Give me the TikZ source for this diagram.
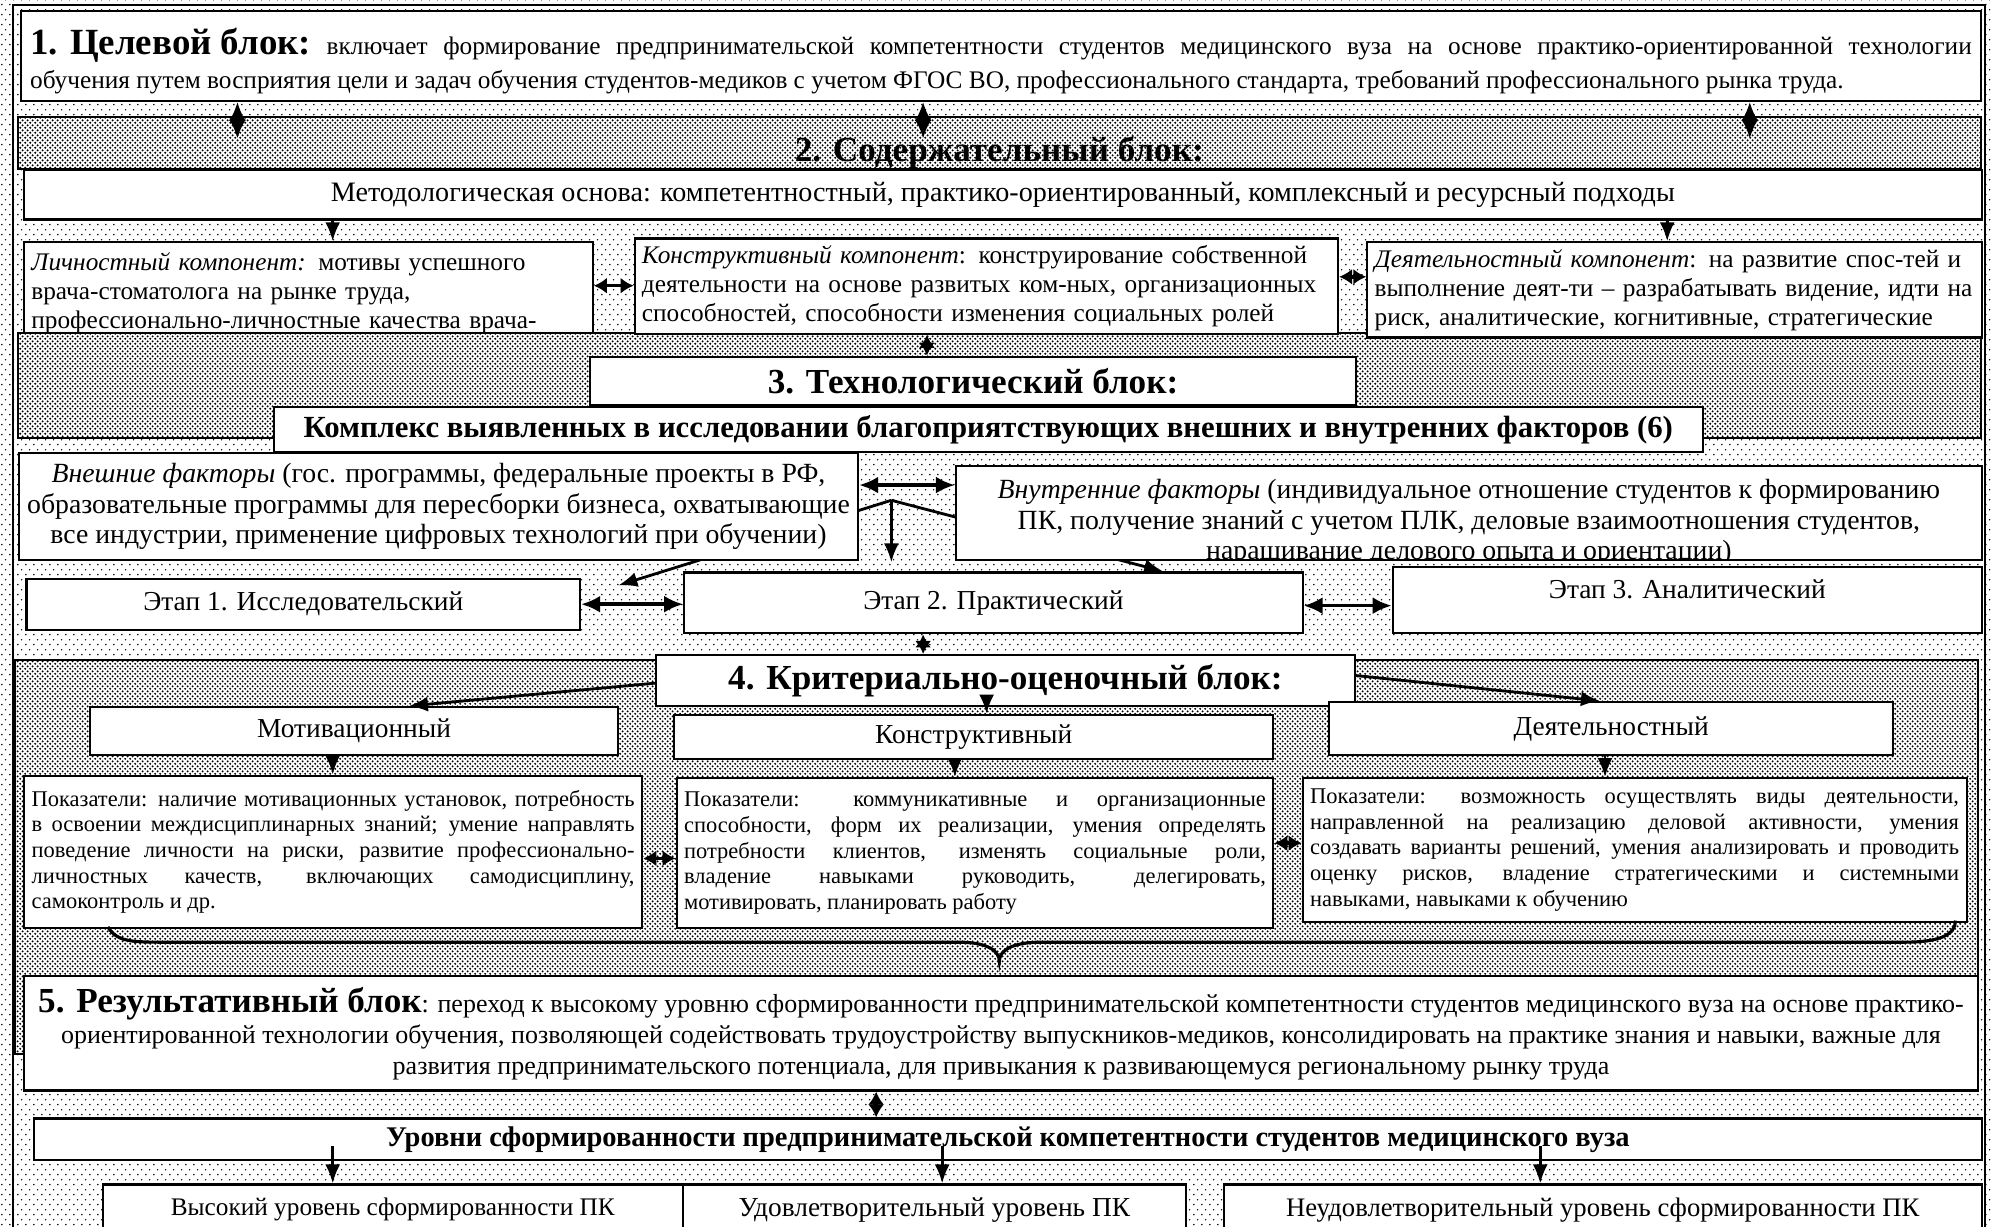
\documentclass[tikz,border=0pt]{standalone}
\usepackage{fontspec}
\setmainfont{Liberation Serif}
\usetikzlibrary{arrows.meta,patterns.meta,calc}

\tikzdeclarepattern{name=lightdots,type=uncolored,bounding box={(0,0) and (2.2pt,2.8pt)},tile size={(2.2pt,2.8pt)},
  code={\fill (0.55pt,0.7pt) circle (0.24pt); \fill (1.65pt,2.1pt) circle (0.24pt);}}
\tikzdeclarepattern{name=densedots,type=uncolored,bounding box={(0,0) and (1.4pt,1.4pt)},tile size={(1.4pt,1.4pt)},
  code={\fill (0.35pt,0.35pt) circle (0.31pt); \fill (1.05pt,1.05pt) circle (0.31pt);}}

\newcommand\ttlbig{\fontsize{10.5}{12}\selectfont\bfseries}
\newcommand\ttl{\fontsize{10}{12}\selectfont\bfseries}
\newcommand\txtb{\fontsize{7.2}{9.7}\selectfont}
\newcommand\txtm{\fontsize{8.0}{9}\selectfont}
\newcommand\txtc{\fontsize{7.2}{8.2}\selectfont}
\newcommand\txtf{\fontsize{7.9}{8.8}\selectfont}
\newcommand\txte{\fontsize{7.8}{9}\selectfont}
\newcommand\txtp{\fontsize{6.4}{7.3}\selectfont}
\newcommand\txtr{\fontsize{7.4}{8.8}\selectfont}
\newcommand\txtk{\fontsize{8.75}{10}\selectfont\bfseries}

% box from corner to corner, coordinates in picture units
\def\rbox[#1](#2,#3)(#4,#5)#6#7{\node[box,anchor=north west,minimum width={(#4-#2)*1.27mm},minimum height={(#5-#3)*1.27mm},#1] (#6) at (#2,#3) {#7};}

\begin{document}
\begin{tikzpicture}[x=1.27mm,y=-1.27mm,
  box/.style={draw,line width=0.6pt,fill=white,inner sep=0.7mm},
  dense/.style={draw,line width=0.5pt,preaction={fill=white},pattern=densedots},
  dbl/.style={{Latex[length=1.9mm,width=1.7mm]}-{Latex[length=1.9mm,width=1.7mm]},line width=1pt},
  dbls/.style={{Latex[length=1.3mm,width=1.6mm]}-{Latex[length=1.3mm,width=1.6mm]},line width=1pt},
  arr/.style={-{Latex[length=1.9mm,width=1.5mm]},line width=0.8pt}]
			%%%%% START %%%%%
			\useasboundingbox (0,0) rectangle (156.8,96.6);
			\fill[white] (0,0) rectangle (156.8,96.6);
			\fill[pattern=lightdots] (0,0) rectangle (156.8,96.6);
			\draw[line width=0.5pt] (1.0,0.4) rectangle (156.3,98);
			
			% 1
			\rbox[text width=194.2mm,align=justify,font=\txtb](1.6,0.8)(155.9,7.8){blka}{\hbox{\rule{0pt}{3.6mm}\ttlbig 1. Целевой блок:} включает формирование предпринимательской компетентности студентов медицинского вуза на основе практико-ориентированной технологии\linebreak обучения путем восприятия цели и задач обучения студентов-медиков с учетом ФГОС ВО, профессионального стандарта, требований профессионального рынка труда.}
			
			% 2
			\draw[dense] (1.4,9.2) rectangle (156.0,13.3);
			\node[font=\ttl] (ttlb) at (78.7,12.0) {2. Содержательный блок:};
			\rbox[font=\txtm](1.8,13.3)(156.0,17.2){meth}{Методологическая основа: компетентностный, практико-ориентированный, комплексный и ресурсный подходы};
			\rbox[text width=55.4mm,align=left,font=\txtc](1.8,19.0)(46.6,27.0){lich}{\textit{Личностный компонент:} мотивы успешного\\ врача-стоматолога на рынке труда,\\ профессионально-личностные качества врача-}
			
			% 3
			\draw[dense] (1.4,26.2) rectangle (156.0,34.5);
			\rbox[text width=68.9mm,align=left,font=\txtc](49.9,18.7)(105.3,26.2){konstr}{\textit{Конструктивный компонент}: конструирование собственной\\ деятельности на основе развитых ком-ных, организационных\\ способностей, способности изменения социальных ролей}
			\rbox[text width=60.0mm,align=left,font=\txtc](107.6,19.0)(156.0,26.5){deyat}{\textit{Деятельностный компонент}: на развитие спос-тей и\\ выполнение деят-ти – разрабатывать видение, идти на\\ риск, аналитические, когнитивные, стратегические}
			\rbox[font=\ttl](46.4,28.0)(106.7,31.8){tech}{3. Технологический блок:}
			\rbox[font=\txtk](21.5,32.0)(134.0,35.5){kompl}{Комплекс выявленных в исследовании благоприятствующих внешних и внутренних факторов (6)}
			
			\coordinate (fj) at (70.2,39.4);
			\coordinate (e12) at (48.7,46.1);
			\coordinate (e2) at (91.6,45.0);
			\draw[arr] (fj) -- (e12);
			\draw[arr] (fj) -- (e2);
			\rbox[align=center,font=\txtf](1.4,35.6)(67.5,44.0){vnesh}{\textit{Внешние факторы} (гос. программы, федеральные проекты в РФ,\\ образовательные программы для пересборки бизнеса, охватывающие\\ все индустрии, применение цифровых технологий при обучении)}
			\rbox[path picture={\node[anchor=north,align=center,font=\txtf,inner sep=0pt] (vnutrtxt) at ([yshift=-0.85mm]path picture bounding box.north) {\textit{Внутренние факторы} (индивидуальное отношение студентов к формированию\\ ПК, получение знаний с учетом ПЛК, деловые взаимоотношения студентов,\\ наращивание делового опыта и ориентации)};}](75.2,36.6)(156.0,44.0){vnutr}{}
			
			\rbox[font=\txte](2.0,45.5)(45.6,49.5){etap1}{Этап 1. Исследовательский}
			\rbox[font=\txte](53.8,45.0)(102.5,49.8){etap2}{Этап 2. Практический}
			\rbox[font=\txte](109.6,44.6)(156.0,49.8){etap3}{\raisebox{2.3mm}{Этап 3. Аналитический}}
			\draw[arr,shorten >=0.9mm] (fj) -- (fj |- etap2.north);
			\draw[dbl] (0,38.2 -| vnesh.east) -- (0,38.2 -| vnutr.west);
			\draw[dbl] (etap1) -- (etap1 -| etap2.west);
			\draw[dbl] (0,47.7 -| etap2.east) -- (0,47.7 -| etap3.west);
			
			% 4
			\draw[dense] (1.2,52.0) rectangle (155.8,83.0);
			\rbox[font=\ttl](51.6,51.5)(106.6,55.5){krit}{4. Критериально-оценочный блок:}
			\rbox[font=\txte](7.0,55.6)(48.6,59.4){motiv}{Мотивационный}
			\rbox[font=\txte](53.0,56.2)(100.2,59.7){konstrb}{Конструктивный}
			\rbox[font=\txte](104.6,55.2)(149.0,59.4){deyatb}{Деятельностный}
			
			\rbox[text width=60.3mm,align=justify,font=\txtp](1.8,61.0)(50.5,73.0){pokm}{Показатели: наличие мотивационных установок, потребность\linebreak в освоении междисциплинарных знаний; умение направлять\linebreak поведение личности на риски, развитие профессионально-\linebreak личностных качеств, включающих самодисциплину,\linebreak самоконтроль и др.}
			\rbox[text width=58.2mm,align=justify,font=\txtp](53.2,61.2)(100.2,73.0){pokk}{Показатели: коммуникативные и организационные\linebreak способности, форм их реализации, умения определять\linebreak потребности клиентов, изменять социальные роли,\linebreak владение навыками руководить, делегировать,\linebreak мотивировать, планировать работу}
			\rbox[text width=64.9mm,align=justify,font=\txtp](102.5,61.2)(154.8,72.5){pokd}{Показатели: возможность осуществлять виды деятельности,\linebreak направленной на реализацию деловой активности, умения\linebreak создавать варианты решений, умения анализировать и проводить\linebreak оценку рисков, владение стратегическими и системными\linebreak навыками, навыками к обучению}
			
			\draw[line width=0.9pt] (8.5,73.0) .. controls (9.2,74.2) and (10.5,74.2) .. (13,74.2) -- (75.5,74.2) .. controls (77.8,74.2) and (78.7,74.9) .. (78.7,75.7) .. controls (78.7,74.9) and (79.6,74.2) .. (82,74.2) -- (150,74.2) .. controls (152.8,74.2) and (154,73.6) .. (154,72.5);
			
			% 5
			\rbox[align=center,font=\txtr](1.8,76.8)(155.7,85.8){rezult}{{\ttl 5. Результативный блок}: переход к высокому уровню сформированности предпринимательской компетентности студентов медицинского вуза на основе практико-\\ ориентированной технологии обучения, позволяющей содействовать трудоустройству выпускников-медиков, консолидировать на практике знания и навыки, важные для\\ развития предпринимательского потенциала, для привыкания к развивающемуся региональному рынку труда}
			\rbox[font=\fontsize{8.1}{10}\selectfont\bfseries](2.6,88.0)(156.0,91.3){urovni}{Уровни сформированности предпринимательской компетентности студентов медицинского вуза}
			\rbox[font=\fontsize{7.2}{9}\selectfont](8.0,93.2)(53.7,97.2){vys}{Высокий уровень сформированности ПК}
			\rbox[font=\txte](53.7,93.2)(93.3,97.2){udov}{Удовлетворительный уровень ПК}
			\rbox[font=\fontsize{7.6}{9}\selectfont](96.3,93.2)(156.0,97.2){neud}{Неудовлетворительный уровень сформированности ПК}
			
			% connectors
			\foreach \cx in {18.7,72.7,137.8}
				\draw[dbl] (blka.south -| \cx,0) -- ++(0,2.9);
			\draw[arr] (meth.south -| 26.2,0) -- (lich.north -| 26.2,0);
			\draw[arr] (meth.south -| 131.3,0) -- (deyat.north -| 131.3,0);
			\draw[dbls] (0,22.5 -| lich.east) -- (0,22.5 -| konstr.west);
			\draw[dbls] (0,21.8 -| konstr.east) -- (0,21.8 -| deyat.west);
			\draw[dbls] (konstr.south -| 73.0,0) -- (tech.north -| 73.0,0);
			\draw[dbls] (etap2.south -| 72.7,0) -- (krit.north -| 72.7,0);
			\draw[arr] (0,53.8 -| krit.west) -- (motiv.north -| 32.2,0);
			\draw[arr] (krit.south -| 77.7,0) -- (konstrb.north -| 77.7,0);
			\draw[arr] (0,53.2 -| krit.east) -- (deyatb.north -| 126.0,0);
			\draw[arr] (motiv.south -| 26.2,0) -- (pokm.north -| 26.2,0);
			\draw[arr] (konstrb.south -| 75.2,0) -- (pokk.north -| 75.2,0);
			\draw[arr] (deyatb.south -| 126.4,0) -- (pokd.north -| 126.4,0);
			\draw[dbls] (0,67.6 -| pokm.east) -- (0,67.6 -| pokk.west);
			\draw[dbls] (0,66.4 -| pokk.east) -- (0,66.4 -| pokd.west);
			\draw[dbls] (rezult.south -| 69.0,0) -- (urovni.north -| 69.0,0);
			\draw[arr] ($(urovni.south -| 26.2,0)+(0,-1.2)$) -- (vys.north -| 26.2,0);
			\draw[arr] ($(urovni.south -| 74.2,0)+(0,-1.2)$) -- (udov.north -| 74.2,0);
			\draw[arr] ($(urovni.south -| 121.3,0)+(0,-1.2)$) -- (neud.north -| 121.3,0);
			%%%%% END %%%%%
\end{tikzpicture}
\end{document}
